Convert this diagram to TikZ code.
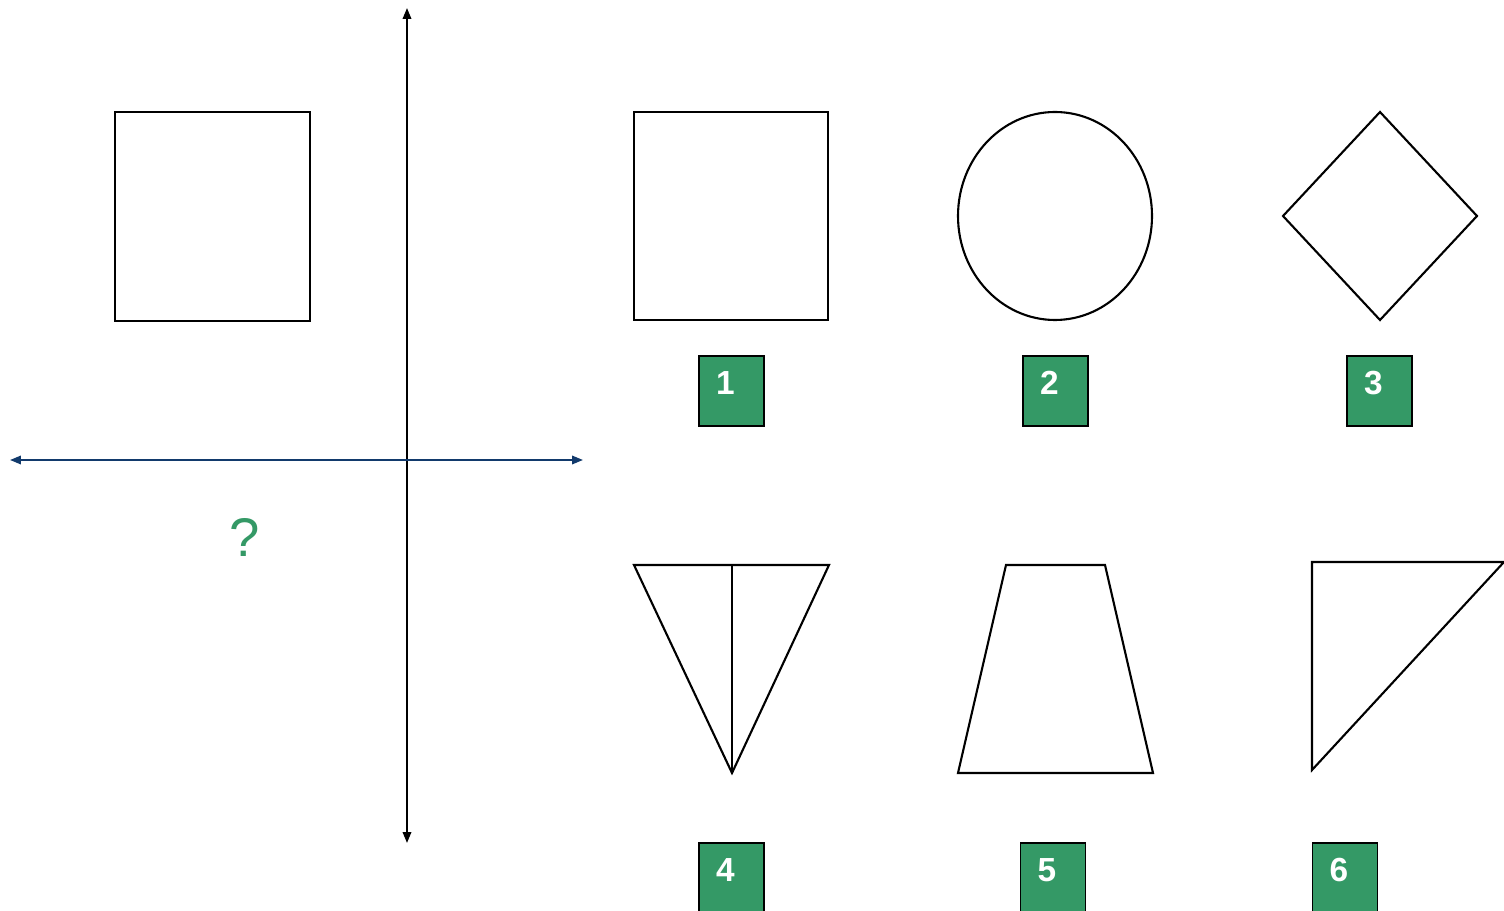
\documentclass[tikz,border=0pt]{standalone}
\usepackage{fontspec}
\setmainfont{Liberation Sans}
\usepackage{xcolor}
\usetikzlibrary{arrows.meta,positioning,calc}
\definecolor{boxgreen}{RGB}{52,153,102}
\definecolor{axisblue}{RGB}{18,58,108}

\begin{document}
\begin{tikzpicture}[x=0.02cm, y=-0.02cm, >={Triangle[length=2.2mm,width=1.7mm]},
  figline/.style={draw=black, line width=1.2pt, line join=miter},
  numbox/.style={draw=black, line width=1.1pt, fill=boxgreen, minimum width=1.3cm, minimum height=1.4cm, inner sep=0pt},
  numtext/.style={text=white, font=\bfseries\fontsize{19}{19}\selectfont, inner sep=0pt}]
\useasboundingbox (0,0) rectangle (1504,911);
\clip (0,0) rectangle (1504,911);
% axes
\coordinate (vtop) at (407,8);
\coordinate (vbot) at (407,843);
\coordinate (hleft) at (10,460);
\coordinate (hright) at (583,460);
\draw[<->, line width=1.1pt, black] (vtop) -- (vbot);
\draw[<->, line width=1.1pt, axisblue] (hleft) -- (hright);
\node[text=boxgreen, font=\fontsize{31}{31}\selectfont, inner sep=0pt] (quest) at (245,537) {?};
% given figure
\draw[figline] (115,112) rectangle (310,321);
% answer figures
\draw[figline] (634,112) rectangle (828,320);
\draw[figline] (1055,216) ellipse [x radius=97, y radius=104];
\draw[figline] (1380,112) -- (1477,216) -- (1380,320) -- (1283,216) -- cycle;
\draw[figline] (634,565) -- (829,565) -- (732,773) -- cycle;
\draw[figline] (732,565) -- (732,773);
\draw[figline] (1006,565) -- (1105,565) -- (1153,773) -- (958,773) -- cycle;
\draw[figline] (1312,562) -- (1504,562) -- (1312,770) -- cycle;
% number boxes
\node[numbox] (b1) at (731.5,391) {};
\node[numbox] (b2) at (1055.5,391) {};
\node[numbox] (b3) at (1379.5,391) {};
\node[numbox] (b4) at (731.5,878) {};
\node[numbox] (b5) at (1053,878) {};
\node[numbox] (b6) at (1345,878) {};
\node[numtext] (n1) at ($(b1.north)+(-6,28)$) {1};
\node[numtext] (n2) at ($(b2.north)+(-6,28)$) {2};
\node[numtext] (n3) at ($(b3.north)+(-6,28)$) {3};
\node[numtext] (n4) at ($(b4.north)+(-6,28)$) {4};
\node[numtext] (n5) at ($(b5.north)+(-6,28)$) {5};
\node[numtext] (n6) at ($(b6.north)+(-6,28)$) {6};
\end{tikzpicture}
\end{document}
